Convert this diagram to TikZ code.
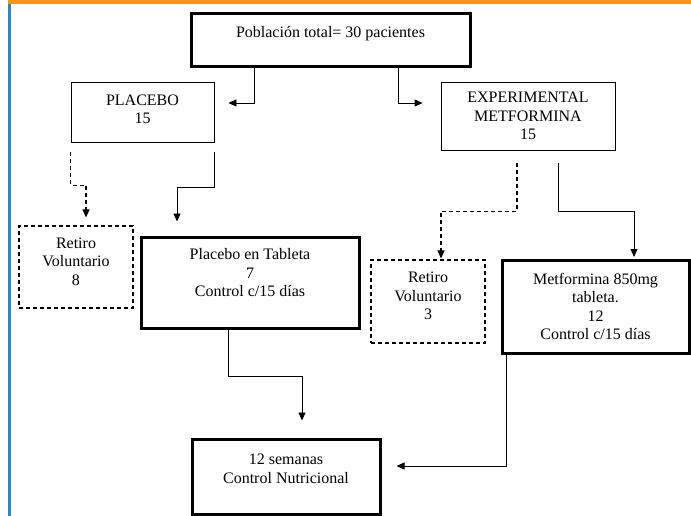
\documentclass[tikz,border=0pt]{standalone}
\usepackage{fontspec}
\setmainfont{Liberation Serif}
\usepackage{xcolor}
\usetikzlibrary{arrows.meta,positioning}

\definecolor{balkenorange}{RGB}{247,148,30}
\definecolor{balkenblau}{RGB}{42,135,192}

\begin{document}
\begin{tikzpicture}[x=1pt, y=-1pt, font=\fontsize{16}{18.5}\selectfont,
	kasten/.style={draw, line width=0.8pt, align=center, inner sep=0pt},
	dickkasten/.style={kasten, line width=3pt},
	strichkasten/.style={kasten, line width=1.1pt, dash pattern=on 4pt off 3pt},
	pfeil/.style={line width=0.8pt, -{Triangle[length=8pt,width=7pt]}},
	strichpfeil/.style={pfeil, line width=1.1pt, dash pattern=on 4pt off 3pt}]
	\useasboundingbox (0,0) rectangle (691,516); % Rand um Grafik
	
	\fill[balkenorange] (8,0) rectangle (691,4); % Balken oben
	\fill[balkenblau] (8,4) rectangle (11,516); % Balken links
	
	% Kaesten
	\node[dickkasten, minimum width=279pt, minimum height=53pt, text depth=18pt] (pob) at (330.5,40.5) {Población total= 30 pacientes};
	\node[kasten, minimum width=143pt, minimum height=60pt, text depth=6pt] (plac) at (142.5,112) {PLACEBO\\15};
	\node[kasten, minimum width=174pt, minimum height=68pt] (expe) at (528,116) {EXPERIMENTAL\\METFORMINA\\15};
	
	\node[strichkasten, minimum width=114pt, minimum height=82pt, text depth=11pt] (ret1) at (76,267) {Retiro\\Voluntario\\8};
	\node[dickkasten, minimum width=218pt, minimum height=91pt, text depth=20pt] (ptab) at (250,282.5) {Placebo en Tableta\\7\\Control c/15 días};
	\node[strichkasten, minimum width=114pt, minimum height=83pt, text depth=11pt] (ret2) at (428,301.5) {Retiro\\Voluntario\\3};
	\node[dickkasten, minimum width=187pt, minimum height=93pt] (metf) at (595.5,306.5) {Metformina 850mg\\tableta.\\12\\Control c/15 días};
	
	\node[dickkasten, minimum width=188pt, minimum height=75pt, text depth=16pt] (cont) at (286,476.5) {12 semanas\\Control Nutricional};
	
	% Pfeile
	\draw[pfeil, shorten >=14pt] ([xshift=-76.5pt]pob.south) |- ([yshift=9pt]plac.east);
	\draw[pfeil, shorten >=18pt] ([xshift=67.5pt]pob.south) |- ([yshift=13pt]expe.west);
	
	\draw[strichpfeil, shorten >=8pt] ([yshift=-10pt]plac.south west) -- ++(0,33) -| ([xshift=10pt]ret1.north);
	\draw[pfeil, shorten >=14pt] ([yshift=-10pt]plac.south east) -- ++(0,35) -| ([xshift=-73pt]ptab.north);
	
	\draw[strichpfeil, shorten >=1pt] ([xshift=-11pt,yshift=-13pt]expe.south) -- ++(0,48) -| ([xshift=13pt]ret2.north);
	\draw[pfeil, shorten >=1.5pt] ([xshift=30pt,yshift=-13pt]expe.south) -- ++(0,48) -| ([xshift=38.5pt]metf.north);
	
	\draw[pfeil, shorten >=17pt] ([xshift=-22pt]ptab.south) -- ++(0,47) -| ([xshift=16pt]cont.north);
	\draw[pfeil, shorten >=15pt] ([xshift=-89.5pt]metf.south) |- ([yshift=10.5pt]cont.east);
\end{tikzpicture}
\end{document}
